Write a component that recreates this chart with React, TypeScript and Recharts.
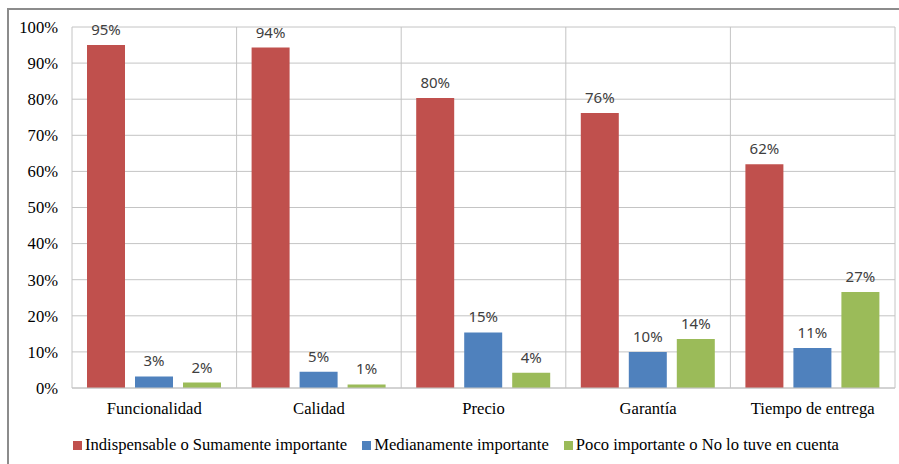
import React from 'react';
import { BarChart, Bar, XAxis, YAxis, CartesianGrid, Legend, LabelList } from 'recharts';

const categories = ['Funcionalidad', 'Calidad', 'Precio', 'Garantía', 'Tiempo de entrega'];
const indispensable = [95, 94.3, 80.3, 76.2, 62];
const medianamente = [3.2, 4.5, 15.4, 10, 11.1];
const poco = [1.5, 1, 4.2, 13.6, 26.6];
const yTicks = [0, 10, 20, 30, 40, 50, 60, 70, 80, 90, 100];

const series = [
  { key: 'indispensable', name: 'Indispensable o Sumamente importante', color: '#c0504d' },
  { key: 'medianamente', name: 'Medianamente importante', color: '#4f81bd' },
  { key: 'poco', name: 'Poco importante o No lo tuve en cuenta', color: '#9bbb59' },
];

const data = categories.map((name, i) => ({
  name,
  indispensable: indispensable[i],
  medianamente: medianamente[i],
  poco: poco[i],
}));

const serif = '"Liberation Serif", "Times New Roman", serif';
const gridColor = '#c4c4c4';
const serifSize = 16.6;

const pct = (v: any) => `${Math.round(Number(v))}%`;

function LegendRow() {
  return (
    <div style={{ display: 'flex', alignItems: 'center', fontFamily: serif, fontSize: serifSize, color: '#000', lineHeight: '20px' }}>
      {series.map((s) => (
        <div key={s.key} style={{ display: 'flex', alignItems: 'center', marginRight: 15 }}>
          <span style={{ width: 9, height: 9, background: s.color, display: 'inline-block', marginRight: 3 }} />
          <span>{s.name}</span>
        </div>
      ))}
    </div>
  );
}

export default function App() {
  return (
    <div style={{ position: 'fixed', left: 0, top: 0, width: 899, height: 464, background: '#fff', overflow: 'hidden', fontFamily: serif }}>
      <div style={{ position: 'absolute', left: 7, top: 8, width: 920, height: 480, borderLeft: '2px solid #8c8c8c', borderTop: '2px solid #8c8c8c', boxSizing: 'border-box' }} />
      <BarChart
        width={899}
        height={464}
        data={data}
        margin={{ top: 27, right: 4, bottom: 9, left: 0 }}
        barCategoryGap={15}
        barGap={10}
        style={{ position: 'absolute', left: 0, top: 0 }}
      >
        <CartesianGrid
          stroke={gridColor}
          strokeWidth={1}
          verticalCoordinatesGenerator={({ offset }: any) =>
            categories.map((_, i) => offset.left + ((i + 1) * offset.width) / categories.length)
          }
        />
        <XAxis
          dataKey="name"
          height={47}
          tickLine={false}
          tickMargin={8}
          axisLine={{ stroke: gridColor }}
          tick={{ fill: '#000', fontSize: serifSize, fontFamily: serif }}
          interval={0}
        />
        <YAxis
          width={72}
          domain={[0, 100]}
          ticks={yTicks}
          tickFormatter={(v: number) => `${v}%`}
          tickLine={false}
          tickMargin={8}
          axisLine={{ stroke: gridColor }}
          tick={{ fill: '#000', fontSize: serifSize, fontFamily: serif }}
        />
        <Legend verticalAlign="bottom" align="left" height={20} wrapperStyle={{ left: 73 }} content={() => <LegendRow />} />
        {series.map((s) => (
          <Bar key={s.key} dataKey={s.key} name={s.name} fill={s.color} isAnimationActive={false}>
            <LabelList
              dataKey={s.key}
              position="top"
              offset={10}
              formatter={pct}
              style={{ fill: '#404040', fontSize: 15, fontFamily: '"Noto Sans", "Open Sans", sans-serif' }}
            />
          </Bar>
        ))}
      </BarChart>
    </div>
  );
}
